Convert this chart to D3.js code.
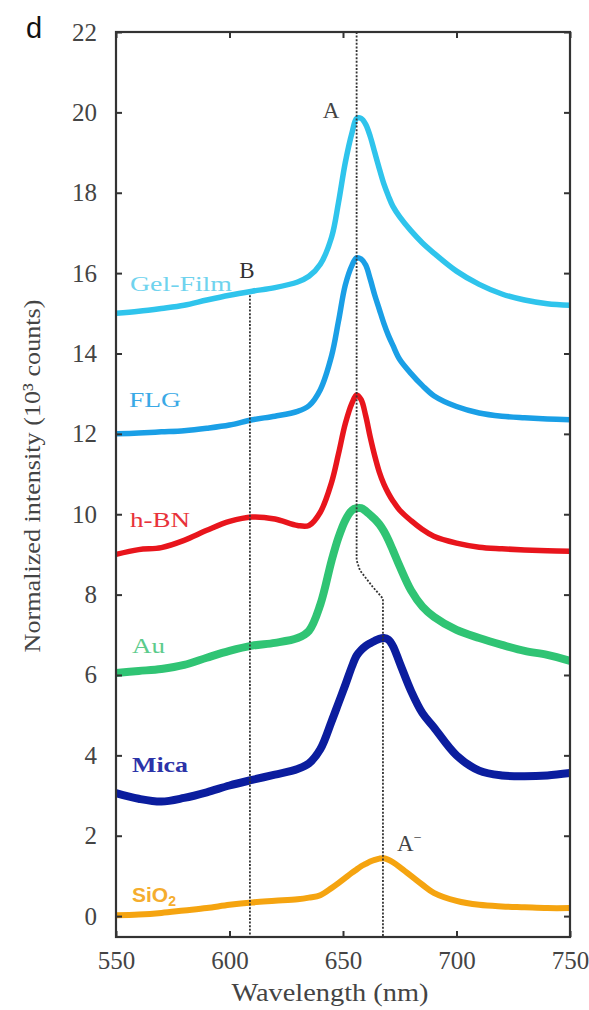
<!DOCTYPE html>
<html><head><meta charset="utf-8">
<script src="https://cdn.jsdelivr.net/npm/d3@7"></script>
<style>
html,body{margin:0;padding:0;background:#fff;}
svg{display:block;}
</style></head>
<body><svg id="chart" width="589" height="1010"></svg>
<script>
// ---------- data ----------
const wavelengths = [550,560,570,580,590,600,610,620,630,635,640,645,648,651,654,656,658,660,662,664,666,668,670,672,675,680,685,690,700,710,720,730,740,750];
const gelFilm = [15.0,15.05,15.12,15.2,15.33,15.45,15.55,15.64,15.78,15.92,16.22,16.9,17.75,18.75,19.5,19.85,19.85,19.7,19.4,19.0,18.6,18.22,17.92,17.66,17.4,17.05,16.75,16.5,16.05,15.72,15.48,15.33,15.24,15.2];
const flg = [12.0,12.02,12.05,12.08,12.14,12.22,12.35,12.44,12.56,12.7,13.1,13.95,14.8,15.7,16.2,16.38,16.35,16.2,15.85,15.45,15.1,14.75,14.45,14.2,13.85,13.5,13.2,12.95,12.68,12.52,12.44,12.4,12.37,12.35];
const hBN = [9.0,9.12,9.17,9.35,9.6,9.82,9.93,9.88,9.72,9.72,10.05,10.8,11.5,12.25,12.77,12.97,12.85,12.45,11.92,11.45,11.05,10.75,10.52,10.33,10.1,9.84,9.62,9.45,9.28,9.18,9.14,9.11,9.09,9.08];
const au = [6.05,6.1,6.15,6.25,6.43,6.6,6.73,6.8,6.92,7.1,7.75,8.85,9.42,9.85,10.1,10.15,10.15,10.08,9.98,9.88,9.75,9.58,9.36,9.1,8.7,8.1,7.7,7.45,7.12,6.92,6.75,6.6,6.5,6.35];
const mica = [3.06,2.92,2.85,2.94,3.08,3.25,3.39,3.52,3.66,3.8,4.15,4.85,5.3,5.75,6.22,6.48,6.62,6.72,6.79,6.85,6.9,6.92,6.88,6.72,6.3,5.6,5.05,4.7,4.0,3.62,3.5,3.48,3.5,3.56];
const sio2 = [0.02,0.04,0.08,0.14,0.2,0.28,0.34,0.38,0.42,0.46,0.52,0.7,0.82,0.95,1.08,1.16,1.24,1.3,1.36,1.4,1.43,1.44,1.4,1.34,1.22,1.0,0.78,0.58,0.38,0.28,0.24,0.22,0.2,0.2];

const seriesNames = ["Gel-Film","FLG","h-BN","Au","Mica","SiO2"];
const seriesValues = [gelFilm, flg, hBN, au, mica, sio2];
const seriesColors = ["#2fc4ec","#1a9fe6","#e8151c","#30c474","#0b1d9e","#f5a410"];
const labelColors = ["#6fd3ee","#3aa9e6","#e8323a","#5ccb8c","#2b33a8","#f5ad2e"];

const xTicks = [550,600,650,700,750];
const yTicks = [0,2,4,6,8,10,12,14,16,18,20,22];

// dotted guide lines: [wavelength, intensity]
const lineA = [[656,22],[656,8.85],[657.5,8.6],[663,8.2],[667.6,7.9],[667.6,-0.52]];
const lineB = [[609,15.45],[609,-0.52]];

// ---------- layout ----------
const svg = d3.select("#chart");
const L = 116, R = 570, T = 32, B = 937;
const x = d3.scaleLinear().domain([550,750]).range([L,R]);
const y = d3.scaleLinear().domain([-0.52,22]).range([B,T]);
const serif = "'Liberation Serif','Times New Roman',serif";
const sans = "'Liberation Sans',Arial,sans-serif";

// curves
const line = d3.line().x(d => x(d[0])).y(d => y(d[1])).curve(d3.curveCatmullRom.alpha(0.5));
const widths = [5.5,5.5,5.5,8,8,6];
seriesValues.forEach((vals,i) => {
  svg.append("path")
    .datum(wavelengths.map((w,j) => [w, vals[j]]))
    .attr("d", line)
    .attr("fill","none")
    .attr("stroke", seriesColors[i])
    .attr("stroke-width", widths[i])
    .attr("stroke-linejoin","round")
    .attr("stroke-linecap","butt");
});

// dotted guides
const gline = d3.line().x(d => x(d[0])).y(d => y(d[1])).curve(d3.curveLinear);
[lineA, lineB].forEach(pts => {
  svg.append("path").datum(pts).attr("d", gline)
    .attr("fill","none").attr("stroke","#333").attr("stroke-width",1.8)
    .attr("stroke-dasharray","2,1.6");
});

// axes
function styleAxis(g){
  g.select(".domain").remove();
  g.selectAll(".tick line").attr("stroke","#333").attr("stroke-width",2);
  g.selectAll(".tick text").attr("font-family",serif).attr("font-size",25).attr("fill","#444");
}
svg.append("g").attr("transform",`translate(${L},0)`)
  .call(d3.axisLeft(y).tickValues(yTicks).tickSize(-6).tickPadding(19).tickFormat(d3.format("d")))
  .call(styleAxis);
svg.append("g").attr("transform",`translate(${R},0)`)
  .call(d3.axisRight(y).tickValues(yTicks).tickSize(-6).tickFormat(""))
  .call(styleAxis);
svg.append("g").attr("transform",`translate(0,${B})`)
  .call(d3.axisBottom(x).tickValues(xTicks).tickSize(-6).tickPadding(14).tickFormat(d3.format("d")))
  .call(styleAxis);
svg.append("g").attr("transform",`translate(0,${T})`)
  .call(d3.axisTop(x).tickValues(xTicks).tickSize(-6).tickFormat(""))
  .call(styleAxis);
svg.append("rect").attr("x",L).attr("y",T).attr("width",R-L).attr("height",B-T)
  .attr("fill","none").attr("stroke","#333").attr("stroke-width",2.2);

// axis titles
svg.append("text").attr("transform","translate(40,476) rotate(-90)")
  .attr("text-anchor","middle").attr("font-family",serif).attr("font-size",24)
  .attr("fill","#444").attr("textLength",353).attr("lengthAdjust","spacingAndGlyphs")
  .text("Normalized intensity (10³ counts)");
svg.append("text").attr("x",330).attr("y",1001)
  .attr("text-anchor","middle").attr("font-family",serif).attr("font-size",25)
  .attr("fill","#444").attr("textLength",197).attr("lengthAdjust","spacingAndGlyphs")
  .text("Wavelength (nm)");

// panel letter
svg.append("text").attr("x",26).attr("y",38).attr("font-family",sans)
  .attr("font-size",29).attr("fill","#111").text("d");

// peak labels
svg.append("text").attr("x",331).attr("y",118).attr("text-anchor","middle")
  .attr("font-family",serif).attr("font-size",23).attr("fill","#444").text("A");
svg.append("text").attr("x",247).attr("y",278).attr("text-anchor","middle")
  .attr("font-family",serif).attr("font-size",23).attr("fill","#333").text("B");
const am = svg.append("text").attr("x",397).attr("y",851)
  .attr("font-family",serif).attr("font-size",23).attr("fill","#444");
am.append("tspan").text("A");
am.append("tspan").attr("dy",-9).attr("font-size",14).text("−");

// series labels
const labelPos = [[130,291,102],[129,407,52],[130,527,60],[132,653,33],[132,772,56],[132,902,50]];
seriesNames.forEach((n,i) => {
  const t = svg.append("text").attr("x",labelPos[i][0]).attr("y",labelPos[i][1])
    .attr("fill",labelColors[i]);
  if (n === "SiO2") {
    t.attr("font-family",sans).attr("font-weight","bold").attr("font-size",21);
    t.append("tspan").text("SiO");
    t.append("tspan").attr("dy",4).attr("font-size",14).text("2");
  } else {
    t.attr("font-family",serif).attr("font-size",22)
      .attr("textLength",labelPos[i][2]).attr("lengthAdjust","spacingAndGlyphs")
      .attr("font-weight", n === "Mica" ? "bold" : "normal")
      .text(n);
  }
});
</script></body></html>
